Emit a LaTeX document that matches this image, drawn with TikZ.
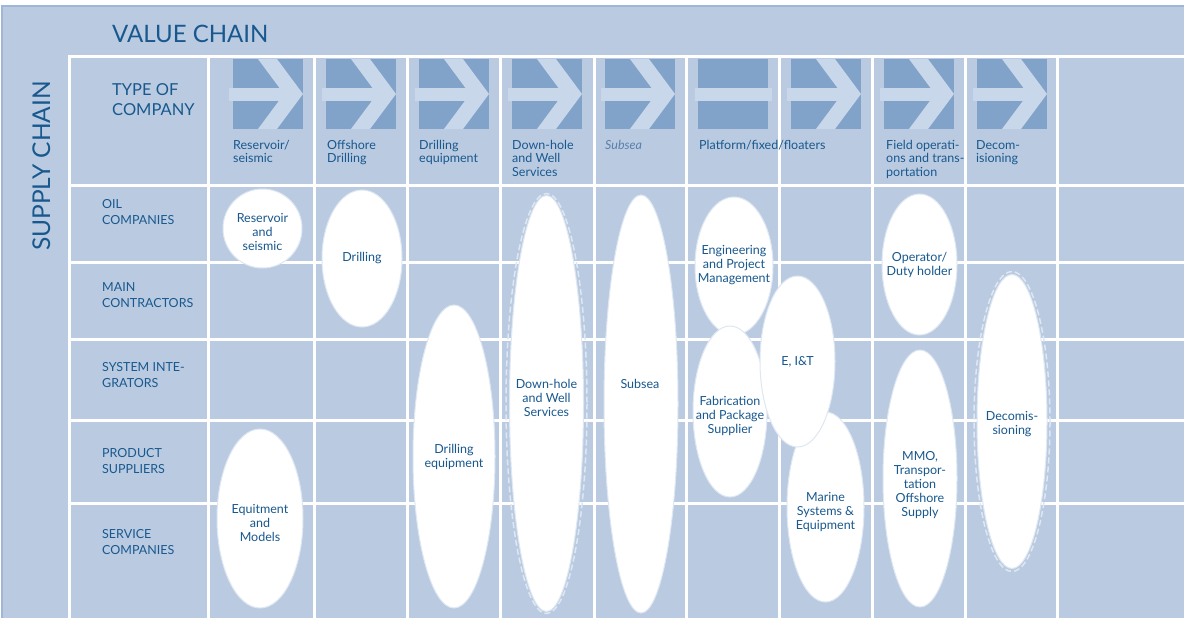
\documentclass[tikz,border=0pt]{standalone}
\usepackage{fontspec}
\setmainfont{Lato}
\usetikzlibrary{shapes.geometric}

\definecolor{panel}{RGB}{186,203,225}
\definecolor{panelrim}{RGB}{160,182,214}
\definecolor{tile}{RGB}{130,163,201}
\definecolor{arrowpale}{RGB}{200,215,233}
\definecolor{ink}{RGB}{24,88,142}
\definecolor{inkpale}{RGB}{88,128,172}
\definecolor{rim}{RGB}{222,231,242}

\newcommand\bubblefont{\fontsize{12.5}{14}\selectfont}
\newcommand\rowfont{\fontsize{12.5}{16}\selectfont}
\newcommand\colfont{\fontsize{12.5}{13.5}\selectfont}

\tikzset{
  bubble/.style={ellipse, fill=white, draw=rim, line width=1pt, inner sep=0pt},
  bubbletext/.style={inner sep=0pt, align=center, text=ink, font=\bubblefont},
  rowlabel/.style={anchor=base west, inner sep=0pt, align=left, text=ink, font=\rowfont},
  colhead/.style={anchor=base west, inner sep=0pt, align=left, text=ink, font=\colfont},
  dashring/.style={draw=rim, dash pattern=on 6pt off 3pt, line width=1.5pt}
}

\begin{document}
\begin{tikzpicture}[x=1pt,y=-1pt]
			\useasboundingbox (0,0) rectangle (1184,618);
			\fill[panel] (2,6) rectangle (1190,624);
			\draw[panelrim,line width=1.2pt] (2,624) -- (2,6) -- (1190,6);
			
			% grid
			\begin{scope}[white,line width=3pt]
			\foreach \x in {69,208,314,407,500,594,686,779,872,965,1057}
			\draw (\x,57) -- (\x,620);
			\foreach \y in {57,185,262,339,420,503}
			\draw (67.5,\y) -- (1190,\y);
			\end{scope}
			
			% arrows
			\foreach \x in {233,326,419,512,605,791,884,977}{
			\fill[tile] (\x,59) rectangle ++(70,70);
			\fill[arrowpale] (\x-4,88) rectangle (\x+60,101);
			\begin{scope}
			\clip (\x,59) rectangle ++(70,70);
			\fill[arrowpale] (\x+25,59) -- (\x+44,59) -- (\x+70,94) -- (\x+44,129) -- (\x+25,129) -- (\x+51,94) -- cycle;
			\end{scope}
			}
			\fill[tile] (698,59) rectangle ++(70,70);
			\fill[arrowpale] (695,88) rectangle (772,101);
			
			\node (value) at (112,43) [anchor=base west,inner sep=0pt,text=ink,font=\fontsize{24}{26}\selectfont] {VALUE CHAIN};
			\node (supply) at (50,166) [anchor=base,rotate=90,inner sep=0pt,text=ink,font=\fontsize{24.5}{26}\selectfont] {SUPPLY CHAIN};
			\node (type) at (112,115) [anchor=base west,inner sep=0pt,align=left,text=ink,font=\fontsize{16.5}{20}\selectfont] {TYPE OF\\COMPANY};
			
			% last line baselines
			\node[colhead] (h1) at (233,162.5) {Reservoir/\\seismic};
			\node[colhead] (h2) at (327,162.5) {Offshore\\Drilling};
			\node[colhead] (h3) at (419,162.5) {Drilling\\equipment};
			\node[colhead] (h4) at (512,176) {Down-hole\\and Well\\Services};
			\node[colhead,text=inkpale,font=\colfont\itshape] (h5) at (605,149) {Subsea};
			\node[colhead] (h6) at (699,149) {Platform/fixed/floaters};
			\node[colhead] (h7) at (886,176) {Field operati-\\ons and trans-\\portation};
			\node[colhead] (h8) at (976,162.5) {Decom-\\isioning};
			
			\node[rowlabel] (r1) at (102,224) {OIL\\COMPANIES};
			\node[rowlabel] (r2) at (102,307) {MAIN\\CONTRACTORS};
			\node[rowlabel] (r3) at (102,387) {SYSTEM INTE-\\GRATORS};
			\node[rowlabel] (r4) at (102,473) {PRODUCT\\SUPPLIERS};
			\node[rowlabel] (r5) at (102,554) {SERVICE\\COMPANIES};
			
			% bubbles
			\node[bubble,minimum width=79pt,minimum height=79pt] (res) at (262.5,228.5) {};
			\node[bubbletext] (resT) at (262.5,231.5) {Reservoir\\and\\seismic};
			\node[bubble,minimum width=80pt,minimum height=137pt] (drl) at (362,258.5) {};
			\node[bubbletext] (drlT) at (362,258.5) {Drilling};
			\node[bubble,minimum width=82pt,minimum height=303pt] (dre) at (454,456.5) {};
			\node[bubbletext] (dreT) at (454,457) {Drilling\\equipment};
			\node[bubble,minimum width=74pt,minimum height=416pt] (dhw) at (546.5,403.5) {};
			\draw[dashring] (dhw.center) ellipse (40.5 and 210);
			\node[bubbletext] (dhwT) at (546.5,397.5) {Down-hole\\and Well\\Services};
			\node[bubble,minimum width=74pt,minimum height=418pt] (sub) at (641,404) {};
			\node[bubbletext] (subT) at (640,384) {Subsea};
			\node[bubble,minimum width=78pt,minimum height=138pt] (eng) at (734,266) {};
			\node[bubbletext] (engT) at (734,265) {Engineering\\and Project\\Management};
			\node[bubble,minimum width=74pt,minimum height=171pt] (fab) at (730,411.5) {};
			\node[bubbletext] (fabT) at (730,415.5) {Fabrication\\and Package\\Supplier};
			\node[bubble,minimum width=77pt,minimum height=190pt] (mar) at (825.5,507) {};
			\node[bubbletext] (marT) at (825.5,512) {Marine\\Systems \&\\Equipment};
			\node[bubble,minimum width=75pt,minimum height=171pt] (eit) at (797.5,361.5) {};
			\node[bubbletext] (eitT) at (797.5,361.5) {E, I\&T};
			\node[bubble,minimum width=75pt,minimum height=141pt] (opr) at (919.5,264.5) {};
			\node[bubbletext] (oprT) at (919.5,264.5) {Operator/\\Duty holder};
			\node[bubble,minimum width=74pt,minimum height=257pt] (mmo) at (920,478.5) {};
			\node[bubbletext] (mmoT) at (920,485.5) {MMO,\\Transpor-\\tation\\Offshore\\Supply};
			\node[bubble,minimum width=70pt,minimum height=294pt] (dec) at (1012,421.5) {};
			\draw[dashring] (dec.center) ellipse (38 and 150);
			\node[bubbletext] (decT) at (1012,424.5) {Decomis-\\sioning};
			\node[bubble,minimum width=86pt,minimum height=179pt] (eqm) at (260,518.5) {};
			\node[bubbletext] (eqmT) at (260,522.5) {Equitment\\and\\Models};
\end{tikzpicture}
\end{document}
